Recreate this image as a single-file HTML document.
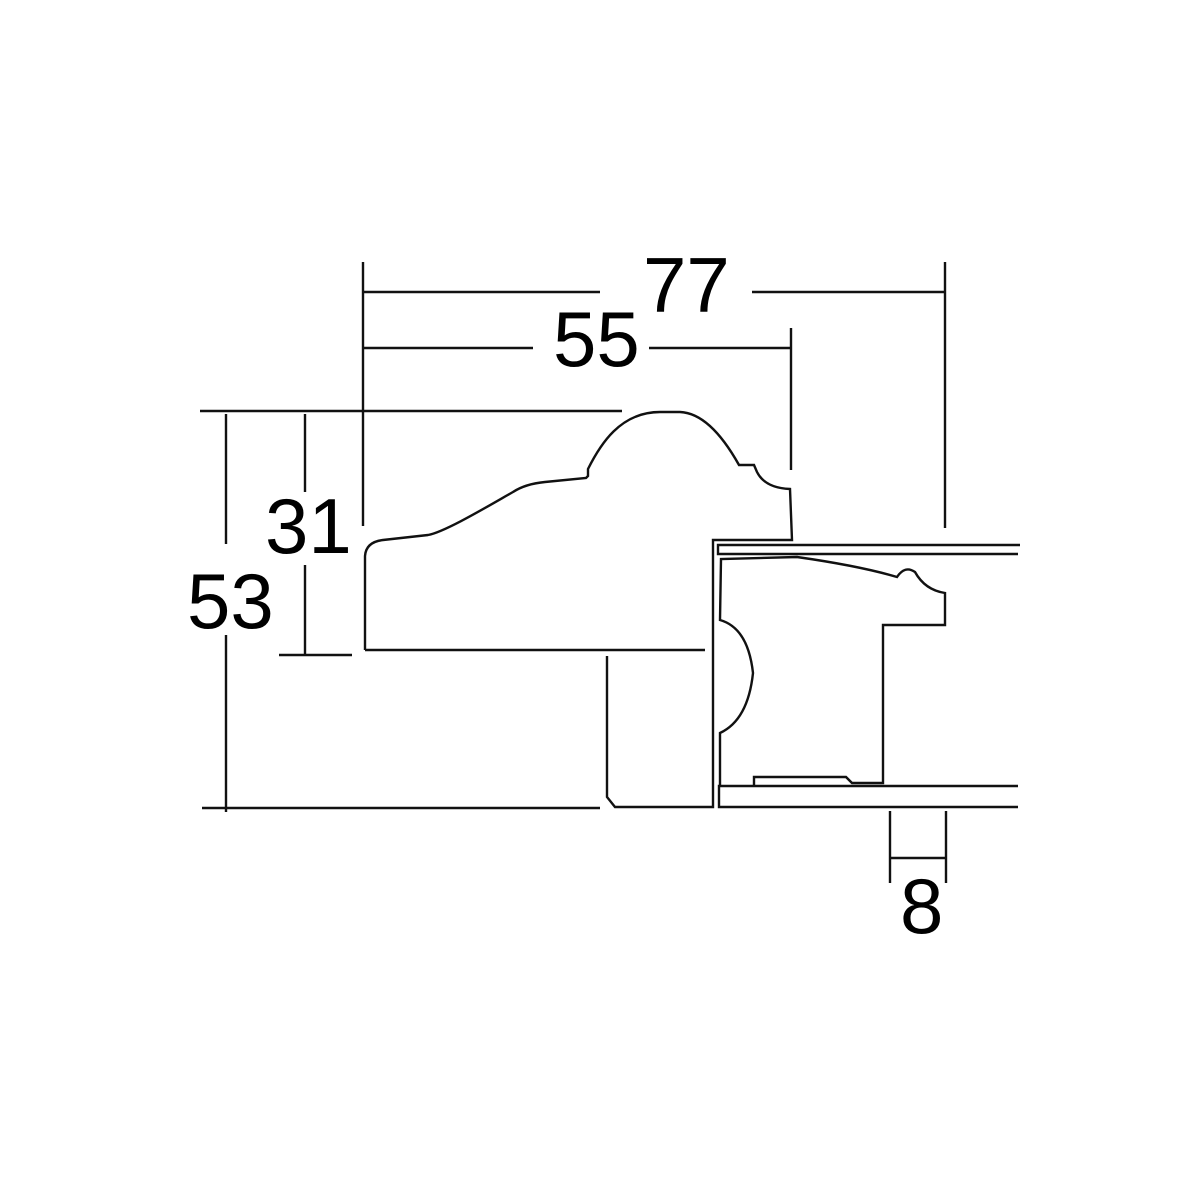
<!DOCTYPE html>
<html><head><meta charset="utf-8"><style>
html,body{margin:0;padding:0;background:#fff;}
svg{display:block;}
text{font-family:"Liberation Sans",Arial,sans-serif;font-size:78px;fill:#000;}
</style></head><body>
<svg width="1200" height="1200" viewBox="0 0 1200 1200" xmlns="http://www.w3.org/2000/svg">
<g fill="none" stroke="#111" stroke-width="2.4">
<line x1="200" y1="411" x2="622" y2="411"/>
<line x1="363" y1="262" x2="363" y2="526"/>
<line x1="363" y1="292" x2="600" y2="292"/>
<line x1="752" y1="292" x2="945" y2="292"/>
<line x1="945" y1="262" x2="945" y2="528"/>
<line x1="363" y1="348" x2="533" y2="348"/>
<line x1="649" y1="348" x2="791" y2="348"/>
<line x1="791" y1="328" x2="791" y2="470"/>
<line x1="226" y1="414" x2="226" y2="544"/>
<line x1="226" y1="635" x2="226" y2="812"/>
<line x1="305" y1="414" x2="305" y2="492"/>
<line x1="305" y1="565" x2="305" y2="655"/>
<line x1="279" y1="655" x2="352" y2="655"/>
<line x1="202" y1="808" x2="600" y2="808"/>
<line x1="890" y1="811" x2="890" y2="883"/>
<line x1="946" y1="811" x2="946" y2="883"/>
<line x1="890" y1="858" x2="946" y2="858"/>
<path d="M365,650 L365,556 Q366,542 383,540 L428,535 C445,532 490,505 513,492 Q525,484 545,482 L586,478 L588,476 L588,469 C600,445 620,412 660,412 L680,412 C705,413 725,440 739,465 L754,465 L757,472 Q765,488 790,489 L792,540 L713,540 L713,807 L615,807 L607,797 L607,656"/>
<line x1="365" y1="650" x2="705" y2="650"/>
<path d="M1020,545 L718,545 L718,554 L1018,554"/>
<path d="M1018,786 L719,786 L719,807 L1018,807"/>
<path d="M720,786 L720,733 Q748,720 753,673 Q748,628 720,620 L721,559 L797,557 Q860,566 897,577 Q905,565 915,572 Q925,590 945,593 L945,625 L883,625 L883,783 L852,783 L846,777 L754,777 L754,786"/>
</g>
<text x="643" y="312">77</text>
<text x="553" y="366">55</text>
<text x="265" y="553">31</text>
<text x="187" y="628">53</text>
<text x="900" y="933">8</text>
</svg>
</body></html>
